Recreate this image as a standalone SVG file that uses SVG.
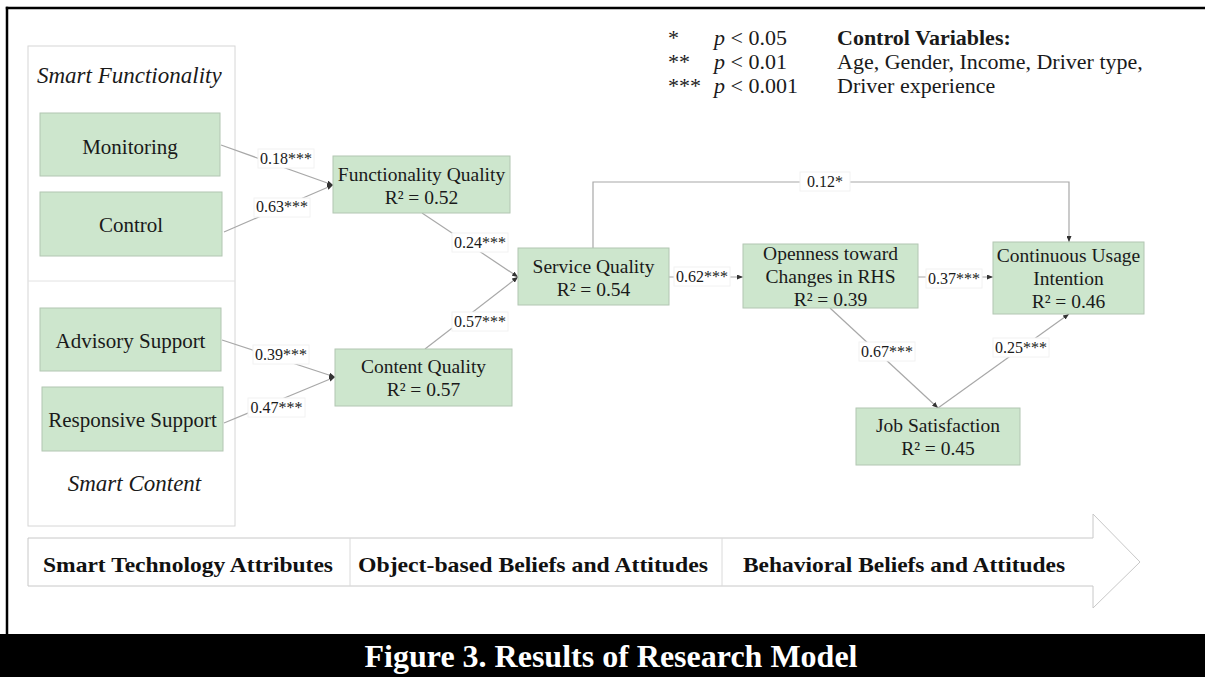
<svg xmlns="http://www.w3.org/2000/svg" width="1205" height="677" viewBox="0 0 1205 677">
<defs>
<style>
.node{fill:#cde6cd;stroke:#b2c6b2;stroke-width:1}
.nt{font-family:"Liberation Serif","Times New Roman",serif;font-size:19.5px;fill:#1a1a1a;text-anchor:middle}
.nl{font-family:"Liberation Serif","Times New Roman",serif;font-size:21px;fill:#1a1a1a;text-anchor:middle}
.it{font-family:"Liberation Serif","Times New Roman",serif;font-size:23px;font-style:italic;fill:#1a1a1a}
.edge{fill:none;stroke:#a8a8a8;stroke-width:1.2}
.lb{fill:#ffffff;stroke:#f2f2f2;stroke-width:1}
.lt{font-family:"Liberation Serif","Times New Roman",serif;font-size:16px;fill:#1a1a1a;text-anchor:middle}
.lg{font-family:"Liberation Serif","Times New Roman",serif;font-size:22px;fill:#1a1a1a}
.ab{font-family:"Liberation Serif","Times New Roman",serif;font-size:21px;font-weight:bold;fill:#111}
</style>
<marker id="ah" markerUnits="userSpaceOnUse" markerWidth="6" markerHeight="5" refX="6" refY="2.5" orient="auto">
<path d="M0,0 L6,2.5 L0,5 z" fill="#333"/>
</marker>
</defs>
<rect x="0" y="0" width="1205" height="677" fill="#ffffff"/>
<!-- frame -->
<line x1="7" y1="6.8" x2="7" y2="634" stroke="#000" stroke-width="2.5"/>
<line x1="5.8" y1="8" x2="1205" y2="8" stroke="#000" stroke-width="2.5"/>
<rect x="0" y="634" width="1205" height="43" fill="#000"/>
<text x="611" y="667" text-anchor="middle" font-family="'Liberation Serif','Times New Roman',serif" font-size="32" font-weight="bold" fill="#fff">Figure 3. Results of Research Model</text>

<!-- legend -->
<g id="legend">
<text class="lg" x="668" y="45">*</text>
<text class="lg" x="668" y="69">**</text>
<text class="lg" x="668" y="93">***</text>
<text class="lg" x="714" y="45"><tspan font-style="italic">p</tspan> &lt; 0.05</text>
<text class="lg" x="714" y="69"><tspan font-style="italic">p</tspan> &lt; 0.01</text>
<text class="lg" x="714" y="93"><tspan font-style="italic">p</tspan> &lt; 0.001</text>
<text class="lg" x="837" y="45" font-weight="bold" font-size="18.5">Control Variables:</text>
<text class="lg" x="837" y="69">Age, Gender, Income, Driver type,</text>
<text class="lg" x="837" y="93">Driver experience</text>
</g>

<!-- group box -->
<g id="smart-group">
<rect x="28" y="46" width="207" height="480" fill="none" stroke="#d6d6d6" stroke-width="1"/>
<line x1="28" y1="281" x2="235" y2="281" stroke="#e2e2e2" stroke-width="1"/>
<text class="it" x="37" y="83">Smart Functionality</text>
<text class="it" x="134.5" y="491" text-anchor="middle">Smart Content</text>
</g>

<!-- bottom arrow -->
<g id="stage-arrow">
<polygon points="28,538 1093,538 1093,514 1140,562 1093,608 1093,586 28,586" fill="#fff" stroke="#c8c8c8" stroke-width="1"/>
<line x1="350" y1="538" x2="350" y2="586" stroke="#dadada" stroke-width="1"/>
<line x1="722" y1="538" x2="722" y2="586" stroke="#dadada" stroke-width="1"/>
<text class="ab" x="43" y="572" textLength="290" lengthAdjust="spacingAndGlyphs">Smart Technology Attributes</text>
<text class="ab" x="358" y="572" textLength="350" lengthAdjust="spacingAndGlyphs">Object-based Beliefs and Attitudes</text>
<text class="ab" x="743" y="572" textLength="322" lengthAdjust="spacingAndGlyphs">Behavioral Beliefs and Attitudes</text>
</g>

<!-- connectors -->
<g id="connectors">
<line class="edge" x1="221" y1="145" x2="333" y2="185" marker-end="url(#ah)"/>
<line class="edge" x1="224" y1="232" x2="333" y2="185" marker-end="url(#ah)"/>
<line class="edge" x1="222" y1="340" x2="335" y2="377" marker-end="url(#ah)"/>
<line class="edge" x1="224" y1="423" x2="335" y2="377" marker-end="url(#ah)"/>
<line class="edge" x1="422" y1="213" x2="518" y2="277" marker-end="url(#ah)"/>
<line class="edge" x1="425" y1="349" x2="518" y2="277" marker-end="url(#ah)"/>
<line class="edge" x1="669" y1="277" x2="743" y2="277" marker-end="url(#ah)"/>
<polyline class="edge" points="593,248 593,182 1069,182 1069,242" marker-end="url(#ah)"/>
<line class="edge" x1="918" y1="277" x2="993" y2="277" marker-end="url(#ah)"/>
<line class="edge" x1="830" y1="308" x2="938" y2="408" marker-end="url(#ah)"/>
<line class="edge" x1="938" y1="408" x2="1069" y2="314" marker-end="url(#ah)"/>

<rect class="lb" x="258" y="149" width="56" height="19"/><text class="lt" x="286" y="164">0.18***</text>
<rect class="lb" x="254" y="198" width="56" height="19"/><text class="lt" x="282" y="212">0.63***</text>
<rect class="lb" x="253" y="345" width="56" height="19"/><text class="lt" x="281" y="360">0.39***</text>
<rect class="lb" x="248" y="398" width="57" height="19"/><text class="lt" x="276.5" y="413">0.47***</text>
<rect class="lb" x="452" y="233" width="56" height="19"/><text class="lt" x="480" y="248">0.24***</text>
<rect class="lb" x="452" y="312" width="56" height="19"/><text class="lt" x="480" y="327">0.57***</text>
<rect class="lb" x="674" y="267" width="56" height="19"/><text class="lt" x="702" y="282">0.62***</text>
<rect class="lb" x="800" y="172" width="50" height="19"/><text class="lt" x="825" y="187">0.12*</text>
<rect class="lb" x="926" y="269" width="56" height="19"/><text class="lt" x="954" y="284">0.37***</text>
<rect class="lb" x="859" y="342" width="56" height="19"/><text class="lt" x="887" y="357">0.67***</text>
<rect class="lb" x="993" y="338" width="56" height="19"/><text class="lt" x="1021" y="353">0.25***</text>
</g>

<!-- nodes -->
<g id="monitoring"><rect class="node" x="40" y="113" width="180" height="63"/><text class="nl" x="130" y="154">Monitoring</text></g>
<g id="control"><rect class="node" x="40" y="192" width="182" height="64"/><text class="nl" x="131" y="232">Control</text></g>
<g id="advisory-support"><rect class="node" x="40" y="308" width="181" height="63"/><text class="nl" x="130.5" y="348">Advisory Support</text></g>
<g id="responsive-support"><rect class="node" x="42" y="387" width="181" height="64"/><text class="nl" x="132.5" y="427">Responsive Support</text></g>
<g id="functionality-quality"><rect class="node" x="333" y="156" width="177" height="57"/><text class="nt" x="421.5" y="181">Functionality Quality</text><text class="nt" x="421.5" y="204">R² = 0.52</text></g>
<g id="content-quality"><rect class="node" x="335" y="349" width="177" height="57"/><text class="nt" x="423.5" y="373">Content Quality</text><text class="nt" x="423.5" y="396">R² = 0.57</text></g>
<g id="service-quality"><rect class="node" x="518" y="248" width="151" height="57"/><text class="nt" x="593.5" y="273">Service Quality</text><text class="nt" x="593.5" y="296">R² = 0.54</text></g>
<g id="openness"><rect class="node" x="743" y="244" width="175" height="64"/><text class="nt" x="830.5" y="260">Openness toward</text><text class="nt" x="830.5" y="283">Changes in RHS</text><text class="nt" x="830.5" y="306">R² = 0.39</text></g>
<g id="continuous-usage"><rect class="node" x="993" y="242" width="151" height="72"/><text class="nt" x="1068.5" y="262">Continuous Usage</text><text class="nt" x="1068.5" y="285">Intention</text><text class="nt" x="1068.5" y="308">R² = 0.46</text></g>
<g id="job-satisfaction"><rect class="node" x="856" y="408" width="164" height="57"/><text class="nt" x="938" y="432">Job Satisfaction</text><text class="nt" x="938" y="455">R² = 0.45</text></g>
</svg>
